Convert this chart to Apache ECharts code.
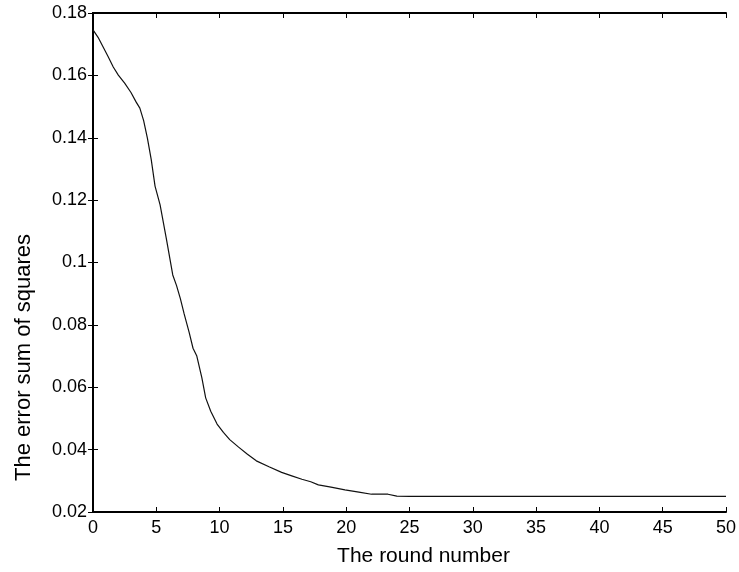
<!DOCTYPE html>
<html>
<head>
<meta charset="utf-8">
<script src="https://cdn.jsdelivr.net/npm/echarts@6/dist/echarts.min.js"></script>
<style>html,body{margin:0;padding:0;background:#fff}#c{width:739px;height:572px}</style>
</head>
<body>
<div id="c"></div>
<script>
var rounds = [0, 0.4, 0.8, 1.2, 1.6, 2.0, 2.5, 3.0, 3.4, 3.7, 4.0, 4.3, 4.6, 4.9, 5.3, 5.8, 6.3, 6.6, 6.9, 7.2, 7.6, 7.9, 8.2, 8.6, 8.9, 9.3, 9.8, 10.3, 10.8, 11.5, 12.2, 12.9, 13.9, 14.9, 15.7, 16.5, 17.2, 17.8, 18.8, 19.9, 21.0, 22.0, 23.3, 24.0, 25, 30, 35, 40, 45, 50];
var errors = [0.1746, 0.1722, 0.1691, 0.1660, 0.1627, 0.1601, 0.1575, 0.1545, 0.1515, 0.1495, 0.1455, 0.1398, 0.1330, 0.1245, 0.1185, 0.1075, 0.0960, 0.0926, 0.0884, 0.0835, 0.0775, 0.0725, 0.0700, 0.0630, 0.0566, 0.0523, 0.0482, 0.0455, 0.0432, 0.0408, 0.0385, 0.0364, 0.0345, 0.0327, 0.0316, 0.0305, 0.0297, 0.0287, 0.0280, 0.0271, 0.0264, 0.0257, 0.0257, 0.0251, 0.025, 0.025, 0.025, 0.025, 0.025, 0.025];
var xTitle = 'The round number';
var yTitle = 'The error sum of squares';

var pts = rounds.map(function (x, i) { return [x, errors[i]]; });
var font = 'Liberation Sans, Arial, sans-serif';
var axisLine = { show: true, lineStyle: { color: '#000', width: 2 } };
var tick = { show: true, inside: true, length: 5, lineStyle: { color: '#000', width: 1 } };

var chart = echarts.init(document.getElementById('c'), null, { renderer: 'canvas' });
chart.setOption({
  animation: false,
  backgroundColor: '#fff',
  grid: { left: 93, right: 9, top: 13, bottom: 57, containLabel: false },
  xAxis: [{
    type: 'value', min: 0, max: 50, interval: 5, position: 'bottom',
    name: xTitle, nameLocation: 'middle', nameGap: 34,
    nameTextStyle: { fontFamily: font, fontSize: 21, color: '#000', padding: [0, 0, 0, 28] },
    axisLine: axisLine, axisTick: tick, splitLine: { show: false },
    axisLabel: { fontFamily: font, fontSize: 18, color: '#000', margin: 7 }
  }, {
    type: 'value', min: 0, max: 50, interval: 5, position: 'top',
    axisLine: axisLine, axisTick: tick, splitLine: { show: false },
    axisLabel: { show: false }
  }],
  yAxis: [{
    type: 'value', min: 0.02, max: 0.18, interval: 0.02, position: 'left',
    name: yTitle, nameLocation: 'middle', nameGap: 58,
    nameTextStyle: { fontFamily: font, fontSize: 22, color: '#000', padding: [0, 190, 0, 0] },
    axisLine: axisLine, axisTick: tick, splitLine: { show: false },
    axisLabel: { fontFamily: font, fontSize: 18, color: '#000', margin: 6,
      formatter: function (v) { return String(+v.toFixed(2)); } }
  }, {
    type: 'value', min: 0.02, max: 0.18, interval: 0.02, position: 'right',
    axisLine: axisLine, axisTick: tick, splitLine: { show: false },
    axisLabel: { show: false }
  }],
  series: [{
    type: 'line', data: pts, xAxisIndex: 0, yAxisIndex: 0,
    showSymbol: false, smooth: false,
    lineStyle: { color: '#111', width: 1.2 }
  }]
});
</script>
</body>
</html>
